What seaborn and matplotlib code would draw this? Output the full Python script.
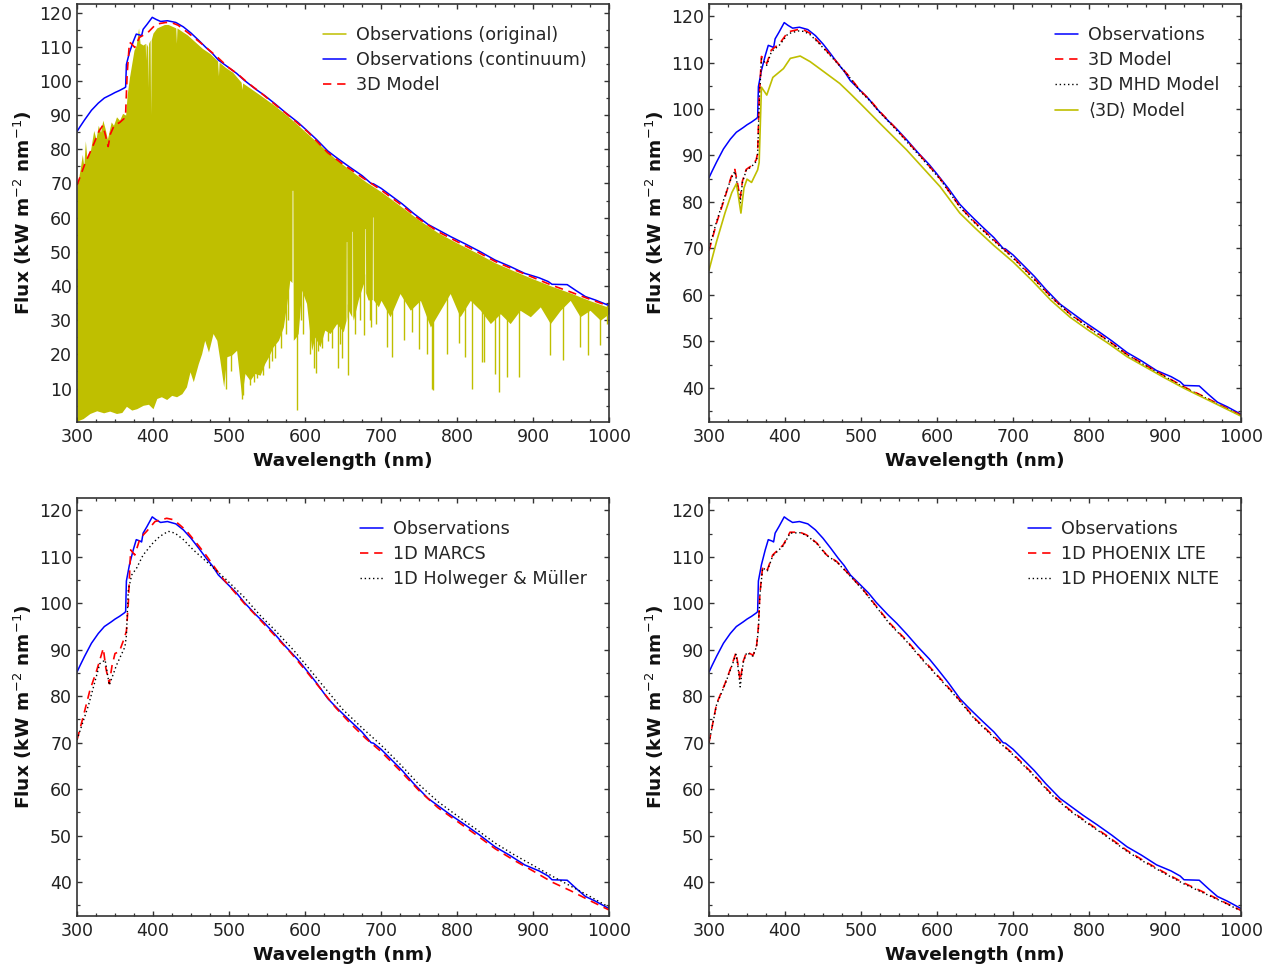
import numpy as np
import matplotlib
matplotlib.use("Agg")
import matplotlib.pyplot as plt
from matplotlib.lines import Line2D
from matplotlib.ticker import MultipleLocator
import seaborn as sns

# ---- observed continuum (blue), shared by every panel ----
obs_wl = [300, 304, 310, 319, 328, 336, 345, 350, 356, 362, 364, 365, 369, 374, 378, 383, 385, 387,
          392, 399, 404, 410, 419, 430, 440, 450, 460, 470, 478, 486, 499, 510, 520, 535, 547, 560,
          575, 590, 600, 615, 630, 640, 648, 660, 675, 687, 690, 700, 714, 728, 743, 762, 777, 792,
          811, 830, 850, 869, 889, 908, 920, 925, 945, 957, 969, 982, 1000]
obs_flux = [85.2, 86.6, 88.6, 91.4, 93.5, 95.0, 96.0, 96.6, 97.2, 97.9, 98.2, 104.8, 108.3, 111.5,
            113.7, 113.4, 113.2, 115.1, 116.5, 118.6, 118.0, 117.4, 117.6, 117.1, 115.8, 114.0, 111.9,
            109.7, 108.1, 106.1, 104.0, 102.2, 100.2, 97.6, 95.7, 93.4, 90.6, 88.0, 86.0, 82.9, 79.5,
            77.8, 76.5, 74.6, 72.3, 70.0, 69.9, 68.6, 66.3, 64.0, 61.2, 58.0, 56.2, 54.4, 52.3, 50.1,
            47.6, 45.8, 43.7, 42.4, 41.3, 40.5, 40.4, 38.6, 36.9, 35.9, 34.3]

# ---- original (line-resolved) observed spectrum, top-left panel ----
spec_top_wl = [300, 304, 307, 309, 311, 313, 318, 322, 325, 328, 331, 334, 337, 340, 342, 345, 348,
               352, 356, 360, 364, 366, 369, 372, 375, 378, 381, 383, 387, 389.8, 390.4, 391, 393,
               393.5, 394.2, 396.2, 396.9, 397.6, 400, 405, 410, 415, 420, 425, 430, 430.8, 431.6,
               438, 445, 455, 465, 475, 485, 486.1, 487, 495, 505, 516, 516.8, 518, 540, 560, 580,
               600, 620, 640, 660, 680, 700, 725, 750, 775, 800, 825, 850, 875, 900, 925, 950, 975,
               1000]
spec_top = [69.0, 74.0, 78.5, 75.0, 82.5, 77.5, 80.0, 85.5, 83.0, 87.0, 85.0, 88.5, 86.0, 83.0, 85.0,
            88.0, 87.0, 89.5, 88.5, 90.5, 90.0, 96.0, 101.0, 105.0, 109.0, 110.5, 115.5, 111.0,
            110.5, 111.0, 106.0, 111.0, 110.0, 98.0, 111.0, 112.0, 90.0, 112.0, 114.0, 115.5, 116.0,
            116.5, 116.5, 116.0, 115.5, 111.0, 115.5, 114.5, 113.5, 111.5, 109.5, 108.0, 105.8,
            101.5, 105.5, 104.0, 102.5, 99.6, 97.5, 99.4, 96.0, 92.8, 89.2, 85.2, 81.2, 77.2, 73.8,
            70.5, 67.6, 63.5, 59.3, 55.6, 52.6, 49.8, 46.8, 44.4, 42.1, 39.9, 37.9, 35.7, 33.7]
spec_bot_wl = [300, 308, 317, 326, 335, 343, 352, 359, 365, 372, 378.5, 387, 394, 400, 405, 411, 418,
               424.6, 431, 438, 444, 448.7, 453, 459.6, 464, 468, 473, 479, 484, 488, 493, 497,
               503.5, 510, 516.7, 521, 527.6, 534, 541, 547, 552, 558, 565, 571.5, 576, 580, 582.8,
               583.0, 584.0, 584.6, 588, 591, 595.6, 602, 608.8, 613, 619.7, 626, 633, 641.7, 650.4,
               654, 654.3, 655.0, 655.3, 657, 661.5, 661.8, 662.5, 662.8, 663.6, 670, 676.8, 678.5,
               678.8, 679.5, 679.8, 683, 688.5, 688.8, 689.5, 689.8, 696.5, 700, 712, 725, 738.6,
               751.8, 765, 778, 791, 804, 817.5, 830.7, 843.9, 857, 870, 883, 896.5, 909.6, 922.8,
               936, 949, 962, 975, 988.6, 1000]
spec_bot = [0.5, 1.2, 2.7, 3.5, 2.9, 3.4, 2.7, 3.0, 4.8, 3.7, 4.1, 5.1, 5.4, 4.1, 7.1, 7.6, 6.8, 8.0,
            7.6, 8.5, 10.5, 14.9, 12.0, 17.3, 20.2, 24.1, 20.7, 26.1, 24.1, 18.3, 10.5, 19.3, 19.8,
            21.2, 7.6, 14.4, 12.4, 14.4, 13.9, 17.3, 19.3, 22.2, 24.1, 28.0, 34.9, 41.7, 41.0, 68.0,
            68.0, 24.1, 25.0, 26.1, 38.8, 34.9, 21.2, 25.1, 22.2, 27.1, 26.1, 29.0, 26.6, 30.0, 53.0,
            53.0, 30.0, 32.9, 31.0, 56.0, 56.0, 31.0, 30.0, 35.9, 40.7, 38.0, 56.8, 56.8, 38.0, 35.9,
            36.0, 60.2, 60.2, 36.0, 33.9, 35.8, 31.0, 37.8, 32.9, 35.8, 28.0, 32.9, 37.8, 31.0, 35.8,
            32.9, 29.0, 31.9, 29.0, 32.9, 31.0, 33.9, 29.0, 32.9, 35.8, 31.0, 32.9, 30.0, 31.9]
# strongest absorption lines reaching below the dense part
line_wl = [496, 502, 517.3, 518.4, 527, 532.8, 537, 545, 553, 557, 561, 568, 575, 578, 589.2, 595,
           598, 606, 612, 615, 617, 623, 630, 636, 643, 646, 649, 656.3, 666, 672, 677, 685, 687,
           694, 708, 714.5, 730, 741, 749.6, 760, 767, 769, 787, 802, 811, 819.7, 833, 835, 850.4,
           855, 866, 881, 922.8, 940, 962, 973, 988.6, 997]
line_min = [10, 15, 7, 8, 11, 12, 13, 14, 16, 18, 19, 22, 26, 30, 3.7, 30, 26, 20, 16, 14.5, 21, 22,
            24, 22, 16, 23, 19, 14, 26, 30, 25.6, 30, 28, 29, 22.2, 19.2, 24.1, 26.6, 21.7, 20,
            10, 9.5, 20.2, 23.2, 19.2, 10, 17.8, 17.8, 14.4, 9, 13.4, 13.4, 19.7, 18.3, 22.2, 19.7,
            22.7, 29]

# ---- 3D models ----
m3d_wl = [300, 310, 321, 329, 334, 337, 341, 344, 349, 356, 362, 364, 366, 369, 371, 376, 382, 393,
          404, 417, 425, 433, 446, 460, 472, 485, 499, 512, 525, 542, 560, 580, 604, 630, 650, 675,
          700, 725, 750, 775, 800, 825, 850, 875, 900, 925, 950, 975, 1000]
m3d_flux = [69.5, 75.5, 81.0, 85.3, 87.0, 84.5, 80.8, 84.5, 87.0, 87.8, 89.0, 90.5, 102.0, 111.3,
            111.0, 109.8, 112.7, 114.1, 116.6, 117.1, 117.0, 116.3, 114.1, 111.6, 109.4, 106.9,
            104.0, 101.9, 99.4, 96.5, 93.2, 89.6, 85.0, 79.0, 75.6, 71.8, 68.1, 64.0, 59.6, 55.9,
            53.0, 50.2, 47.2, 44.8, 42.5, 40.2, 38.2, 36.1, 34.1]
mhd_flux = [70.0, 75.8, 81.3, 85.0, 86.6, 84.0, 79.8, 84.2, 86.8, 87.6, 88.7, 90.0, 101.0, 110.8,
            110.6, 109.4, 112.3, 113.8, 116.2, 116.8, 116.7, 116.0, 113.9, 111.4, 109.3, 106.8,
            103.8, 101.7, 99.2, 96.3, 93.0, 89.4, 84.9, 78.9, 75.4, 71.6, 67.9, 63.8, 59.5, 55.8,
            52.9, 50.1, 47.1, 44.7, 42.4, 40.1, 38.1, 36.0, 34.0]
avg_wl = [300, 310, 321, 330, 336, 338, 342, 346, 350, 356, 364, 366, 369, 376, 384, 398, 407, 420,
          433, 448, 472, 486, 499, 525, 560, 604, 630, 650, 675, 700, 725, 750, 775, 800, 825, 850,
          875, 900, 925, 950, 975, 1000]
avg_flux = [65.3, 71.5, 77.6, 82.0, 83.9, 82.0, 77.6, 83.0, 84.9, 84.2, 86.9, 88.5, 104.7, 103.0,
            106.8, 108.7, 110.9, 111.4, 110.2, 108.4, 105.5, 103.3, 101.2, 96.9, 91.2, 83.3, 77.6,
            74.4, 70.6, 67.1, 63.1, 58.8, 55.2, 52.3, 49.6, 46.7, 44.4, 42.1, 39.9, 37.9, 35.9, 33.9]

# ---- 1D models ----
marcs_wl = [300, 308, 317, 326, 334.6, 338, 342.5, 346, 350, 355.7, 362, 365, 367.5, 370.6, 376, 383,
            391.7, 402.6, 418, 426.8, 435, 444, 452, 460, 470, 480, 490, 500, 520, 540, 560, 580,
            600, 620, 640, 660, 680, 700, 725, 750, 775, 800, 825, 850, 875, 900, 925, 950, 975, 1000]
marcs_flux = [70.6, 75.5, 81.3, 85.6, 90.3, 86.0, 82.7, 86.5, 89.2, 89.6, 92.4, 94.0, 100.0, 111.5,
              110.4, 114.0, 115.5, 117.6, 118.3, 118.0, 116.9, 115.6, 114.0, 112.4, 110.3, 108.0,
              105.7, 103.8, 100.0, 96.6, 93.1, 89.6, 85.7, 81.7, 77.6, 74.1, 70.9, 68.1, 64.0, 59.7,
              56.0, 53.1, 50.2, 47.2, 44.7, 42.4, 40.0, 38.1, 36.0, 34.0]
hm_wl = [300, 315, 330, 337, 342.5, 352, 363, 365, 367.5, 372, 378.5, 387, 400, 409, 420, 429, 440,
         453, 475, 497, 520, 541, 560, 585, 600, 624, 650, 675, 700, 725, 750, 775, 800, 825, 850,
         875, 900, 925, 950, 975, 1000]
hm_flux = [70.6, 78.0, 87.0, 87.8, 82.4, 86.7, 90.6, 93.0, 102.9, 106.1, 107.6, 110.4, 113.0, 114.4,
           115.5, 115.1, 113.7, 111.5, 108.3, 105.0, 101.3, 97.4, 94.3, 89.9, 87.0, 82.2, 77.1, 73.2,
           69.5, 65.4, 61.0, 57.3, 54.3, 51.4, 48.4, 45.9, 43.6, 41.3, 39.1, 36.9, 34.6]
phx_wl = [300, 310, 321, 330, 335.5, 338, 341, 345, 349.6, 358, 362.7, 365, 367, 370.6, 376.8, 383.8,
          397.8, 406.6, 419.7, 428.5, 441.7, 454.8, 468, 481, 503, 538, 560, 582, 600, 626, 650,
          675, 700, 725, 750, 775, 800, 825, 850, 875, 900, 925, 950, 975, 1000]
lte_flux = [70.0, 78.4, 82.7, 86.7, 89.4, 87.0, 83.3, 87.5, 89.6, 88.8, 91.0, 95.0, 102.2, 107.9,
            107.2, 110.4, 112.6, 115.3, 115.3, 114.7, 113.0, 110.4, 109.0, 106.8, 102.9, 95.7, 92.0,
            87.8, 84.6, 79.9, 75.2, 71.3, 67.6, 63.5, 59.1, 55.5, 52.6, 49.8, 46.8, 44.3, 42.0, 39.8,
            37.9, 35.9, 33.9]
nlte_flux = [70.0, 78.2, 82.5, 86.5, 89.0, 86.5, 82.0, 87.2, 89.4, 88.6, 90.8, 94.5, 101.8, 107.6,
             107.0, 110.2, 112.4, 115.1, 115.2, 114.6, 112.9, 110.3, 108.9, 106.7, 102.8, 95.5, 91.8,
             87.6, 84.4, 79.7, 75.0, 71.1, 67.4, 63.3, 58.9, 55.3, 52.4, 49.6, 46.6, 44.1, 41.8,
             39.6, 37.7, 35.8, 33.8]

OLIVE = "#bfbf00"
DASH = (0, (5, 3.5))
DOT = (0, (1, 2))

sns.set_theme(style="ticks")
plt.rcParams.update({
    "font.family": ["DejaVu Sans"],
    "axes.edgecolor": "#333333",
    "axes.linewidth": 1.2,
    "xtick.direction": "in", "ytick.direction": "in",
    "xtick.top": True, "ytick.right": True,
    "xtick.color": "#333333", "ytick.color": "#333333",
    "xtick.labelcolor": "#222222", "ytick.labelcolor": "#222222",
    "xtick.labelsize": 12.5, "ytick.labelsize": 12.5,
    "xtick.major.size": 3.6, "ytick.major.size": 3.6,
    "xtick.minor.size": 2.4, "ytick.minor.size": 2.4,
    "xtick.major.width": 1.0, "ytick.major.width": 1.0,
    "xtick.minor.width": 0.9, "ytick.minor.width": 0.9,
    "xtick.major.pad": 4.5, "ytick.major.pad": 3.5,
    "mathtext.fontset": "dejavusans",
})

fig = plt.figure(figsize=(12.8, 9.69), dpi=100)
W, H = 1280, 969


def make_ax(left_px, top_px):
    return fig.add_axes([left_px / W, 1 - (top_px + 417.7) / H, 532 / W, 417.7 / H])


def style(ax, ylo, yhi, ymajor):
    ax.set_xlim(300, 1000)
    ax.set_ylim(ylo, yhi)
    ax.xaxis.set_major_locator(MultipleLocator(100))
    ax.xaxis.set_minor_locator(MultipleLocator(25))
    ax.yaxis.set_major_locator(MultipleLocator(ymajor))
    ax.yaxis.set_minor_locator(MultipleLocator(ymajor / 2))
    ax.tick_params(which="both", top=True, right=True)
    ax.set_xlabel("Wavelength (nm)", fontsize=13.3, fontweight="bold", color="#111111")
    ax.set_ylabel(r"Flux (kW m$^{-2}$ nm$^{-1}$)", fontsize=13.3, fontweight="bold",
                  color="#111111")
    for s in ax.spines.values():
        s.set_visible(True)


def legend(ax, handles):
    ax.legend(handles=handles, loc="upper right", frameon=False, fontsize=12.7,
              handlelength=1.3, handletextpad=0.57, labelspacing=0.4,
              borderaxespad=0.85, borderpad=0.4)


def line(ax, x, y, color, ls="-", lw=1.1, label=None):
    sns.lineplot(x=x, y=y, ax=ax, color=color, linestyle=ls, linewidth=lw, label=label)


# top-left: original spectrum vs continuum vs 3D model
ax1 = make_ax(77, 4)
grid = np.union1d(spec_top_wl, spec_bot_wl)
ax1.fill_between(grid, np.interp(grid, spec_bot_wl, spec_bot),
                 np.interp(grid, spec_top_wl, spec_top), color=OLIVE, lw=0)
ax1.vlines(line_wl, line_min, np.interp(line_wl, spec_bot_wl, spec_bot) + 3,
           color=OLIVE, lw=1.0)
line(ax1, obs_wl, obs_flux, "blue", lw=1.1)
line(ax1, m3d_wl, m3d_flux, "red", DASH, lw=1.2)
style(ax1, 0.3, 122.5, 10)
legend(ax1, [Line2D([], [], color=OLIVE, lw=1.1, label="Observations (original)"),
             Line2D([], [], color="blue", lw=1.1, label="Observations (continuum)"),
             Line2D([], [], color="red", ls=DASH, lw=1.2, label="3D Model")])

# top-right: 3D models
ax2 = make_ax(709, 4)
line(ax2, obs_wl, obs_flux, "blue")
line(ax2, m3d_wl, m3d_flux, "red", DASH, lw=1.2)
line(ax2, m3d_wl, mhd_flux, "black", DOT, lw=1.0)
line(ax2, avg_wl, avg_flux, OLIVE, lw=1.2)
style(ax2, 32.7, 122.6, 10)
legend(ax2, [Line2D([], [], color="blue", lw=1.1, label="Observations"),
             Line2D([], [], color="red", ls=DASH, lw=1.2, label="3D Model"),
             Line2D([], [], color="black", ls=DOT, lw=1.0, label="3D MHD Model"),
             Line2D([], [], color=OLIVE, lw=1.2, label=r"$\langle$3D$\rangle$ Model")])

# bottom-left: 1D MARCS and Holweger & Mueller
ax3 = make_ax(77, 498.3)
line(ax3, obs_wl, obs_flux, "blue")
line(ax3, marcs_wl, marcs_flux, "red", DASH, lw=1.2)
line(ax3, hm_wl, hm_flux, "black", DOT, lw=1.0)
style(ax3, 32.7, 122.6, 10)
legend(ax3, [Line2D([], [], color="blue", lw=1.1, label="Observations"),
             Line2D([], [], color="red", ls=DASH, lw=1.2, label="1D MARCS"),
             Line2D([], [], color="black", ls=DOT, lw=1.0, label="1D Holweger & Müller")])

# bottom-right: PHOENIX
ax4 = make_ax(709, 498.3)
line(ax4, obs_wl, obs_flux, "blue")
line(ax4, phx_wl, lte_flux, "red", DASH, lw=1.2)
line(ax4, phx_wl, nlte_flux, "black", DOT, lw=1.0)
style(ax4, 32.7, 122.6, 10)
legend(ax4, [Line2D([], [], color="blue", lw=1.1, label="Observations"),
             Line2D([], [], color="red", ls=DASH, lw=1.2, label="1D PHOENIX LTE"),
             Line2D([], [], color="black", ls=DOT, lw=1.0, label="1D PHOENIX NLTE")])

fig.savefig("out.png", dpi=100)
